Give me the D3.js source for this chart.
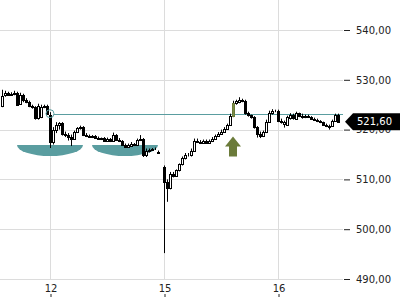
<!DOCTYPE html>
<html>
<head>
<meta charset="utf-8">
<script src="https://cdn.jsdelivr.net/npm/d3@7"></script>
<style>
  body { margin: 0; background: #fff; }
  svg { display: block; font-family: "DejaVu Sans", sans-serif; }
</style>
</head>
<body>
<script>
// intraday candles (one slot each)
var opens  = [524.8,527,527.3,527,527.2,527.4,525.2,527,526,525.6,524.8,524.5,522.3,522.5,524.6,524.8,
              523,517.5,520,521,521.3,519.2,519,518.5,518.2,519.5,520.3,520.5,519,518.8,518.6,518.7,518.4,518.2,518.3,517.8,518.2,517.8,519,518,517.7,517,516.6,516.8,517.2,516.9,517.9,518.1,514.8,515.8,516,516.1,515.6,515,
              512.5,509.5,508.2,511,510.7,511.8,513,514.2,515,514.8,515.8,517.8,517.6,517.3,517.8,517.4,517.8,518.2,518.8,519.2,519.6,520.2,521,522.8,525.4,525.6,526,525.7,523.4,522.9,522.5,520.5,519.2,518.7,519.5,521.6,523.4,523.8,
              523.7,521.8,521.2,521,522.3,523,522.2,523.3,522.7,522.5,522.8,522.5,522.2,522,521.7,521.5,521,520.8,520.8,521.8,523];
var highs  = [528,527.8,527.6,527.5,527.8,527.6,527.4,527.2,526.3,525.8,525,524.7,525.2,525,525,525,
              523.5,520.5,521.5,521.5,521.5,519.6,519.3,519,519.8,520.5,520.8,520.7,519.3,519,518.9,518.9,518.6,518.4,518.5,518.4,518.3,519.4,519.1,518.3,517.9,517.2,517.2,517.5,517.3,518.2,518.9,518.3,516.2,516.2,516.3,516.4,515.8,515,
              512.8,510,511.5,511.5,512,513.2,514.6,515.3,515.3,516.2,518.2,518.2,517.9,518,518,518,518.5,519,519.5,520,520.5,521.2,523.2,525.8,526,526.5,526.2,526,523.6,523,522.7,520.7,519.6,519.8,522,523.8,524.1,524,
              524,522.2,521.8,522.8,523.3,523.2,523.6,523.4,523.2,523,523,522.7,522.4,522.2,521.9,521.6,521.2,521,522,523.2,523.2];
var lows   = [524.5,526.6,526.8,526.8,526.9,524.8,525,525.5,525.3,524.5,524.2,522,522,522.3,524.3,523,
              516.3,517,519.3,520,518.8,518.5,517.8,516.7,518,519.3,520,518.7,518.5,518.4,518.3,518.2,518,517.9,517.6,517.6,517.5,517.6,517.8,517.5,516.8,516.4,516.5,516.6,516.7,516.7,517.7,514.5,514.5,515.4,515.7,515.9,515.2,515,
              495.2,505.5,508,510.4,510.5,511.6,512.8,514,514.6,514.6,515.6,517.3,517.1,517.2,517.2,517.3,517.5,518,518.6,519,519.4,520,520.8,522.5,525,525.3,525.5,523,522.6,522.2,520.2,518.4,518.3,518.5,519.3,521.4,523,523.5,
              521.5,521.2,520.4,520.8,522,522,522,522.5,522.2,522.3,522.4,522,521.8,521.5,521.3,520.8,520.5,520,520.6,521.6,521.4];
var closes = [526.8,527.3,527,527.2,527.4,525,527,526,525.6,524.8,524.5,522.3,524.8,524.6,524.8,523.2,
              517.5,520,521,521.3,519.2,519,518.5,518.2,519.5,520.3,520.5,519,518.8,518.6,518.7,518.4,518.2,518.3,517.8,518.2,517.7,519,518,517.7,517,516.6,517,517.2,516.9,517.9,518.1,514.8,515.8,516,516.1,516.2,515.4,515,
              509.5,508.2,511,510.7,511.8,513,514.2,515,514.8,515.8,517.8,517.6,517.3,517.8,517.4,517.8,518.2,518.8,519.2,519.6,520.2,521,522.8,525.4,525.8,526,525.7,523.4,522.9,522.5,520.5,519.2,518.7,519.5,521.6,523.4,523.8,523.7,
              521.8,521.5,521.6,522.5,523,522.3,523.3,522.7,522.5,522.8,522.5,522.2,522,521.7,521.5,521,520.7,520.5,521.8,523,521.6];

// x axis: day labels at the first slot of each day
var dayLabels = ["12", "15", "16"];
var dayStarts = [16, 54, 92];

// y axis ticks
var priceTicks = [490, 500, 510, 520, 530, 540];

// markers
var lastPrice = 521.6;
var refLevel = 523.2;
var refStart = 16;
var cupStarts = [5, 30];
var cupEnds = [27, 52];
var cupTop = 516.9;
var cupBottom = 514.7;
var arrowIndex = 77;
var arrowTip = 518.6;

var w = 400;
var h = 300;
var plotRight = 343;

var candles = opens.map(function(o, i) {
  return {i: i, o: o, h: highs[i], l: lows[i], c: closes[i]};
});

var x = d3.scaleLinear().domain([0, candles.length - 1]).range([2, 2 + 3 * (candles.length - 1)]);
var y = d3.scaleLinear().domain([490, 540]).range([279, 30]);

var de = d3.formatLocale({decimal: ",", thousands: ".", grouping: [3], currency: ["", "€"]});
var fmt = de.format(".2f");

var svg = d3.select("body").append("svg")
  .attr("width", w)
  .attr("height", h);

// grid
svg.append("g").selectAll("line.h")
  .data(priceTicks).enter().append("line")
  .attr("x1", 0).attr("x2", plotRight)
  .attr("y1", function(d) { return Math.round(y(d)) + 0.5; })
  .attr("y2", function(d) { return Math.round(y(d)) + 0.5; })
  .attr("stroke", "#dcdcdc");

svg.append("g").selectAll("line.v")
  .data(dayStarts).enter().append("line")
  .attr("x1", function(d) { return Math.round(x(d)) + 0.5; })
  .attr("x2", function(d) { return Math.round(x(d)) + 0.5; })
  .attr("y1", 0).attr("y2", 280)
  .attr("stroke", "#dcdcdc");

// cups
var cupCol = "#5a9da0";
cupStarts.forEach(function(s, k) {
  var x0 = x(s), x1 = x(cupEnds[k]);
  var yt = y(cupTop), rx = (x1 - x0) / 2, ry = y(cupBottom) - yt;
  svg.append("path")
    .attr("d", "M" + x0 + "," + yt + "L" + x1 + "," + yt +
               "A" + rx + "," + ry + " 0 0 1 " + x0 + "," + yt + "Z")
    .attr("fill", cupCol);
});

// reference line
svg.append("line")
  .attr("x1", x(refStart) + 4).attr("x2", plotRight)
  .attr("y1", Math.round(y(refLevel)) + 0.5)
  .attr("y2", Math.round(y(refLevel)) + 0.5)
  .attr("stroke", cupCol);

// candles
var g = svg.append("g");
g.selectAll("line.wick").data(candles).enter().append("line")
  .attr("x1", function(d) { return Math.round(x(d.i)) + 0.5; })
  .attr("x2", function(d) { return Math.round(x(d.i)) + 0.5; })
  .attr("y1", function(d) { return y(d.h); })
  .attr("y2", function(d) { return y(d.l); })
  .attr("stroke", "#000");

g.selectAll("rect").data(candles).enter().append("rect")
  .attr("x", function(d) { return Math.round(x(d.i)) - 0.5; })
  .attr("width", 2)
  .attr("y", function(d) { return Math.round(y(Math.max(d.o, d.c))) + 0.5; })
  .attr("height", function(d) { return Math.max(0, Math.round(y(Math.min(d.o, d.c))) - Math.round(y(Math.max(d.o, d.c)))); })
  .attr("fill", function(d) {
    if (d.i == arrowIndex) return "#7d8e48";
    return d.c >= d.o ? "#fff" : "#000";
  })
  .attr("stroke", function(d) { return d.i == arrowIndex ? "#6b7b3a" : "#000"; });

// circle at start of reference line
svg.append("circle")
  .attr("cx", x(refStart)).attr("cy", y(refLevel))
  .attr("r", 4)
  .attr("fill", "none")
  .attr("stroke", cupCol);

// arrow
var ax = x(arrowIndex), at = y(arrowTip);
svg.append("path")
  .attr("d", "M" + ax + "," + at + "L" + (ax + 8) + "," + (at + 10) + "L" + (ax + 4) + "," + (at + 10) +
             "L" + (ax + 4) + "," + (at + 20) + "L" + (ax - 4) + "," + (at + 20) + "L" + (ax - 4) + "," + (at + 10) +
             "L" + (ax - 8) + "," + (at + 10) + "Z")
  .attr("fill", "#6b7b3a");

// right axis
var yAxis = d3.axisRight(y).tickValues(priceTicks).tickFormat(fmt).tickSize(6).tickPadding(6);
var ya = svg.append("g")
  .attr("transform", "translate(344,0)")
  .call(yAxis);
ya.select(".domain").remove();
ya.selectAll("text").attr("font-size", 10).attr("fill", "#222").attr("font-family", "DejaVu Sans");
ya.selectAll("line").attr("stroke", "#222");

// bottom axis (labels above small ticks)
var xAxis = d3.axisTop(x).tickValues(dayStarts)
  .tickFormat(function(d, i) { return dayLabels[i]; })
  .tickSize(3).tickPadding(2);
var xa = svg.append("g")
  .attr("transform", "translate(0.5,297)")
  .call(xAxis);
xa.select(".domain").remove();
xa.selectAll("text").attr("font-size", 10).attr("fill", "#222").attr("font-family", "DejaVu Sans");
xa.selectAll("line").attr("stroke", "#222");

// last price tag
var yc = y(lastPrice);
svg.append("path")
  .attr("d", "M345," + yc + "L353," + (yc - 8.5) + "L400," + (yc - 8.5) + "L400," + (yc + 8.5) + "L353," + (yc + 8.5) + "Z")
  .attr("fill", "#000");
svg.append("text")
  .attr("x", 357).attr("y", yc).attr("dy", "0.35em")
  .attr("font-size", 10).attr("fill", "#fff")
  .text(fmt(lastPrice));
</script>
</body>
</html>
